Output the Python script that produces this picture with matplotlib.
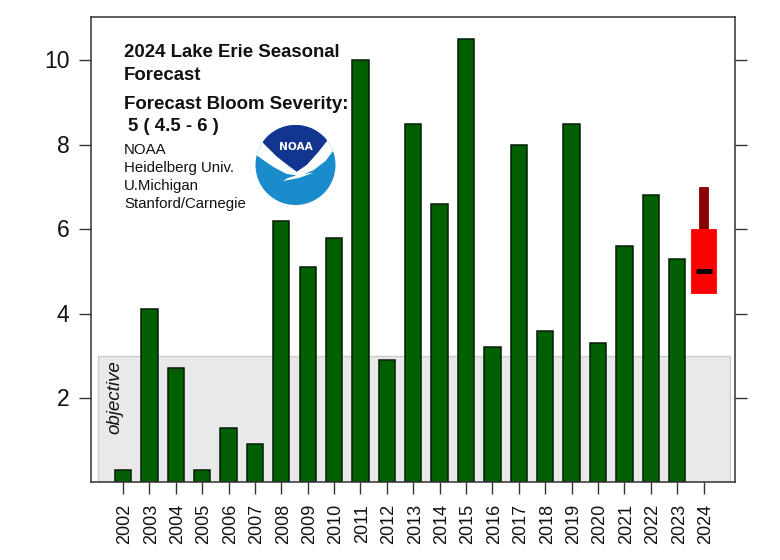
import matplotlib
matplotlib.use("Agg")
import matplotlib.pyplot as plt
from matplotlib.patches import Circle, Polygon, Rectangle
from matplotlib.transforms import ScaledTranslation

plt.rcParams['font.family'] = ['Liberation Sans', 'DejaVu Sans']

years = list(range(2002, 2024))
severity = [0.3, 4.1, 2.7, 0.3, 1.3, 0.9, 6.2, 5.1, 5.8, 10.0, 2.9,
            8.5, 6.6, 10.5, 3.2, 8.0, 3.6, 8.5, 3.3, 5.6, 6.8, 5.3]
forecast_year = 2024
forecast_mid = 5.0
forecast_low = 4.5
forecast_high = 6.0
forecast_max = 7.0
objective = 3.0
all_years = years + [forecast_year]
y_ticks = [2, 4, 6, 8, 10]

W, H = 780, 560
fig = plt.figure(figsize=(W / 100, H / 100), dpi=100, facecolor='white')
L, R, T, B = 91, 735, 17, 482.4
ax = fig.add_axes([L / W, 1 - B / H, (R - L) / W, (B - T) / H])
ax.set_xlim(2000.79, 2025.19)
ax.set_ylim(0, 11.03)

ax.add_patch(Rectangle((2001.05, 0), 23.94, objective, fc='#e9e9e9', ec='#cccccc', lw=1, zorder=1))
ax.bar(years, severity, width=0.62, color='#006000', edgecolor='#041c08', linewidth=1.1, zorder=2)

ax.bar([forecast_year], [forecast_max - forecast_high], bottom=[forecast_high], width=0.34,
       color='#8b0000', edgecolor='#8b0000', linewidth=0.6, zorder=2)
ax.bar([forecast_year], [forecast_high - forecast_low], bottom=[forecast_low], width=0.94,
       color='#ff0000', edgecolor='#ff0000', linewidth=0.6, zorder=3)
ax.plot([forecast_year - 0.3, forecast_year + 0.3], [forecast_mid, forecast_mid],
        color='black', lw=3.6, solid_capstyle='butt', zorder=4)

ax.text(2001.68, 1.15, 'objective', rotation=90, style='italic', fontsize=13.5,
        ha='center', va='bottom', color='#111111', zorder=3)

ax.set_xticks(all_years)
ax.set_xticklabels([str(y) for y in all_years], rotation=90, fontsize=13, color='#111111')
ax.set_yticks(y_ticks)
ax.set_yticklabels([str(v) for v in y_ticks], fontsize=16.5, color='#111111')
ax.tick_params(axis='x', length=8.6, width=1, color='#333333', pad=7)
ax.tick_params(axis='y', length=8.6, width=1, color='#333333', pad=7, right=True)
nudge = ScaledTranslation(2 / 100, 0, fig.dpi_scale_trans)
for t in ax.get_xticklabels():
    t.set_transform(t.get_transform() + nudge)
nudge_y = ScaledTranslation(0, 1 / 100, fig.dpi_scale_trans)
for t in ax.get_yticklabels():
    t.set_transform(t.get_transform() + nudge_y)
for s in ax.spines.values():
    s.set_color('#333333')
    s.set_linewidth(1.1)


def px(x, y):
    return x / W, 1 - y / H


def label(x, y, s, **kw):
    fig.text(*px(x, y), s, va='baseline', ha='left', color='#111111', zorder=6, **kw)


label(124, 57, '2024 Lake Erie Seasonal', fontsize=13.45, fontweight='bold')
label(124, 80, 'Forecast', fontsize=13.45, fontweight='bold')
label(124, 109, 'Forecast Bloom Severity:', fontsize=13.45, fontweight='bold')
label(128, 131, '5 ( 4.5 - 6 )', fontsize=13.45, fontweight='bold')
for yy, s in zip([154, 172, 190, 208], ['NOAA', 'Heidelberg Univ.', 'U.Michigan', 'Stanford/Carnegie']):
    label(124, yy, s, fontsize=10.8)

# NOAA logo, in its own axes of unit coordinates
cx, cy, r = 295.5, 165, 40
lax = fig.add_axes([(cx - r - 1) / W, 1 - (cy + r + 1) / H, (2 * r + 2) / W, (2 * r + 2) / H])
lax.set_xlim(-1.025, 1.025)
lax.set_ylim(-1.025, 1.025)
lax.axis('off')
lax.patch.set_alpha(0)
disc = Circle((0, 0), 1, fc='#1a8ccb', ec='none')
lax.add_patch(disc)
bird = Polygon([(-0.98, 0.25), (-0.85, 0.6), (1.05, 0.65), (0.99, 0.42), (0.75, 0.1), (0.45, -0.13),
                (0.22, -0.22), (0.45, -0.19), (0.1, -0.32), (-0.31, -0.40), (-0.2, -0.33),
                (0.02, -0.26), (-0.23, -0.22), (-0.55, -0.05), (-0.8, 0.12)],
               closed=True, fc='white', ec='none')
lax.add_patch(bird)
bird.set_clip_path(disc)
top = Polygon([(-0.81, 0.55), (-0.48, 0.22), (-0.2, 0.0), (0.03, -0.17), (0.28, 0.0), (0.55, 0.3),
               (0.78, 0.59), (1.0, 1.1), (-1.0, 1.1)],
              closed=True, fc='#12358f', ec='none')
lax.add_patch(top)
top.set_clip_path(disc)
lax.text(0.0, 0.445, 'NOAA', color='white', fontsize=7.6, fontweight='bold', ha='center', va='center',
         family=['DejaVu Sans'])

fig.savefig('out.png', dpi=100)
